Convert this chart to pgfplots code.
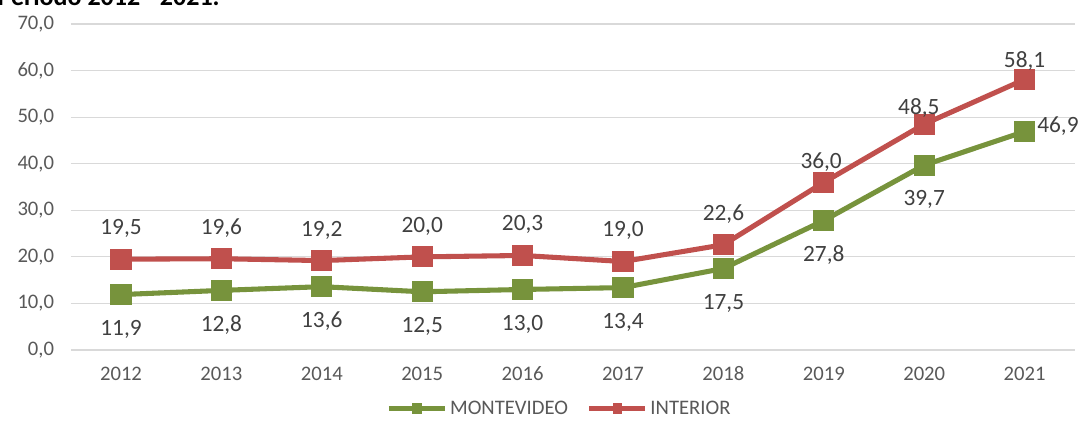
\documentclass[border=0pt]{standalone}
\usepackage{pgfplots}
\pgfplotsset{compat=1.18}
\usepackage{pgfplotstable}
\usepackage{fontspec}
\setmainfont{Carlito}
\definecolor{mgreen}{HTML}{77933C}
\definecolor{mred}{HTML}{C0504D}
\definecolor{tickgray}{HTML}{595959}
\definecolor{labgray}{HTML}{404040}
\definecolor{gridgray}{HTML}{D9D9D9}
\pgfplotstableread{
x y
0 11.9
1 12.8
2 13.6
3 12.5
4 13.0
5 13.4
6 17.5
7 27.8
8 39.7
9 46.9
}\montevideo
\pgfplotstableread{
x y
0 19.5
1 19.6
2 19.2
3 20.0
4 20.3
5 19.0
6 22.6
7 36.0
8 48.5
9 58.1
}\interior
\pgfplotsset{
  lbl/.style 2 args={
    draw=none, mark=none, forget plot,
    nodes near coords={\pgfmathprintnumber[fixed,fixed zerofill,precision=1,use comma,assume math mode=true]{\pgfplotspointmeta}},
    every node near coord/.append style={anchor=center, xshift=#1, yshift=#2, text=labgray, font=\fontsize{17.5}{20}\selectfont},
  }
}
\begin{document}
\begin{tikzpicture}
\useasboundingbox (0pt,0pt) rectangle (810pt,-315.75pt);
\node[anchor=base west, inner sep=0pt, font=\fontsize{19.5}{22}\selectfont\bfseries] at (-2pt,-4pt) {Período 2012 - 2021.};
\begin{axis}[
  at={(53.1pt,-262.5pt)}, anchor=south west,
  scale only axis, width=753pt, height=244.5pt,
  xmin=-0.5, xmax=9.5, ymin=0, ymax=70,
  ytick={0,10,...,70},
  xtick={0,...,9},
  xticklabels={2012,2013,2014,2015,2016,2017,2018,2019,2020,2021},
  axis line style={draw=none},
  major tick style={draw=none},
  ymajorgrids, grid style={gridgray, line width=0.8pt},
  font=\fontsize{15.5}{18}\selectfont,
  ticklabel style={text=tickgray, font=\fontsize{15.5}{18}\selectfont},
  /pgf/number format/assume math mode=true,
  yticklabel={\pgfmathprintnumber[fixed,fixed zerofill,precision=1,use comma]{\tick}},
  yticklabel style={xshift=-9pt},
  xticklabel style={yshift=-9pt},
  clip=false,
  legend style={draw=none, at={(0.487,-0.18)}, anchor=center, legend columns=2,
    font=\fontsize{15.5}{18}\selectfont, text=tickgray,
    /tikz/every even column/.append style={column sep=12pt}},
  legend image code/.code={
    \draw[#1, mark=none] (0pt,0pt) -- (42pt,0pt);
    \fill[#1, draw=none] (17.5pt,-4pt) rectangle (24.5pt,4pt);
  },
]
\addplot[mgreen, line width=3.8pt, mark=square*, mark size=6pt, mark options={solid}] table[x=x,y=y] {\montevideo};
\addlegendentry{MONTEVIDEO}
\addplot[mred, line width=3.8pt, mark=square*, mark size=6pt, mark options={solid}] table[x=x,y=y] {\interior};
\addlegendentry{INTERIOR}
% labels
\addplot[lbl={0pt}{-26pt}, skip coords between index={9}{10}] table[x=x,y=y] {\montevideo};
\addplot[lbl={25pt}{4pt}, skip coords between index={0}{9}] table[x=x,y=y] {\montevideo};
\addplot[lbl={0pt}{23pt}, skip coords between index={7}{10}] table[x=x,y=y] {\interior};
\addplot[lbl={-2pt}{15pt}, skip coords between index={0}{7}, skip coords between index={8}{10}] table[x=x,y=y] {\interior};
\addplot[lbl={-4pt}{12pt}, skip coords between index={0}{8}, skip coords between index={9}{10}] table[x=x,y=y] {\interior};
\addplot[lbl={0pt}{14pt}, skip coords between index={0}{9}] table[x=x,y=y] {\interior};
\end{axis}
\end{tikzpicture}
\end{document}
